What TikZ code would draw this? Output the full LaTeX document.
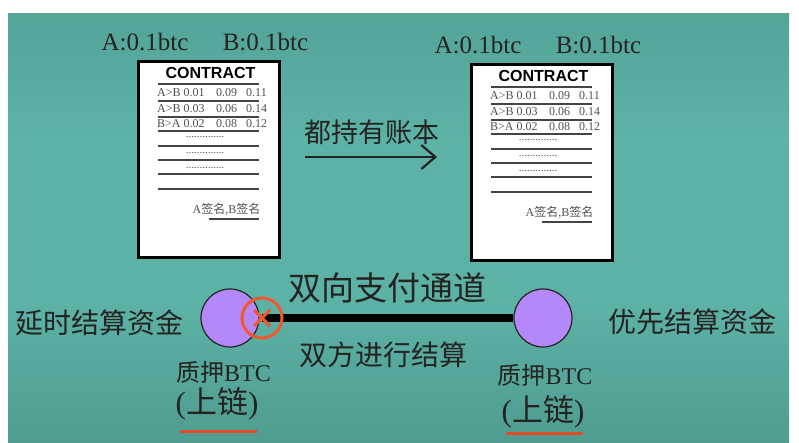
\documentclass[tikz,border=0pt]{standalone}
\usepackage{fontspec}
\setmainfont{Liberation Serif}
\setsansfont{Liberation Sans}
\newfontfamily\cjk{Noto Sans CJK SC}
\usetikzlibrary{arrows.meta}

\newcommand{\fsz}[1]{\fontsize{#1}{#1}\selectfont}

\definecolor{bgtop}{RGB}{84,164,152}
\definecolor{bgmid}{RGB}{93,178,166}
\definecolor{bgbot}{RGB}{80,156,144}
\definecolor{coinfill}{RGB}{181,136,250}
\definecolor{crossred}{RGB}{240,88,48}
\definecolor{ulred}{RGB}{226,76,40}
\definecolor{ink}{RGB}{35,35,35}
\definecolor{rowgrey}{RGB}{80,80,80}

\begin{document}
\begin{tikzpicture}[x=1pt,y=-1pt,
    lbl/.style={inner sep=0pt,text=ink},
    rowtxt/.style={inner sep=0pt,anchor=west,text=rowgrey,font=\fsz{12}},
    docline/.style={line width=1.8pt,draw=ink!85},
    coin/.style={circle,draw=ink,line width=1.2pt,fill=coinfill,minimum size=58pt,inner sep=0pt},
    ulmark/.style={line width=3pt,draw=ulred}]
\useasboundingbox (0,0) rectangle (799,443);
\fill[bgmid] (8,14) rectangle (789,443);
\shade[top color=bgtop,bottom color=bgmid] (8,14) rectangle (789,140);
\shade[top color=bgmid,bottom color=bgbot] (8,300) rectangle (789,443);

\foreach \nm/\dx/\dy in {L/0/0,R/333/3}{
  \begin{scope}[shift={(\dx,\dy)}]
    \node[lbl,font=\fsz{25}] (bala\nm) at (145,42) {A:0.1btc};
    \node[lbl,font=\fsz{25}] (balb\nm) at (265.5,42) {B:0.1btc};
    \node[draw=black,line width=3pt,fill=white,minimum width=141pt,minimum height=196pt,inner sep=0pt] (doc\nm) at (209,159.5) {};
    \node[lbl,font=\sffamily\bfseries\fsz{16},text=black] (title\nm) at (210.5,73) {CONTRACT};
    \foreach \y in {84,101,117,131,146,160,174,189}
      \draw[docline] (158,\y) -- (259,\y);
    \foreach \y/\a/\b/\c [count=\i] in {93/A>B 0.01/0.09/0.11,109/A>B 0.03/0.06/0.14,124/B>A 0.02/0.08/0.12}{
      \node[rowtxt] (ra\nm\i) at (157,\y) {\a};
      \node[rowtxt] (rb\nm\i) at (216,\y) {\b};
      \node[rowtxt] (rc\nm\i) at (246,\y) {\c};
    }
    \foreach \y [count=\i] in {137,153,168}
      \node[lbl,text=rowgrey,font=\fsz{11}] (dots\nm\i) at (205,\y) {..............};
    \node[lbl,text=rowgrey,font=\fsz{12}] (sign\nm) at (226.5,209) {A{\cjk 签名},B{\cjk 签名}};
    \draw[docline] (209,219) -- (259,219);
  \end{scope}
}

\node[lbl,font=\cjk\fsz{27}] (ledger) at (371.5,132) {都持有账本};
\coordinate (arrS) at (305,157);
\coordinate (arrE) at (437,157);
\draw[-{Straight Barb[length=14pt,width=24pt]},line width=2.2pt,ink] (arrS) -- (arrE);

\node[coin] (lcoin) at (230,318) {};
\node[coin] (rcoin) at (543,318) {};
\coordinate (xc) at (262,318);
\draw[line width=8pt,black] (xc) -- (rcoin.west);
\node[circle,draw=crossred,line width=3pt,minimum size=40pt,inner sep=0pt] (xmark) at (xc) {};
\draw[line width=3pt,crossred] (xmark.center) ++(-8,-8) -- ++(16,16)
  (xmark.center) ++(8,-8) -- ++(-16,16);

\node[lbl,font=\cjk\fsz{33}] (chan) at (387.5,288) {双向支付通道};
\node[lbl,font=\cjk\fsz{28}] (settle) at (383.5,355) {双方进行结算};
\node[lbl,font=\cjk\fsz{28}] (late) at (99,323) {延时结算资金};
\node[lbl,font=\cjk\fsz{28}] (early) at (692.5,322) {优先结算资金};

\node[lbl,font=\fsz{24}] (lpledge) at (223.5,372) {{\cjk 质押}BTC};
\node[lbl,font=\fsz{24}] (rpledge) at (545,375) {{\cjk 质押}BTC};
\node[lbl,font=\fsz{31}] (lchain) at (217,404) {({\cjk 上链})};
\node[lbl,font=\fsz{31}] (rchain) at (543,412) {({\cjk 上链})};
\draw[ulmark] (180,431) -- (257,431);
\draw[ulmark] (506,433) -- (583,433);
\end{tikzpicture}
\end{document}
